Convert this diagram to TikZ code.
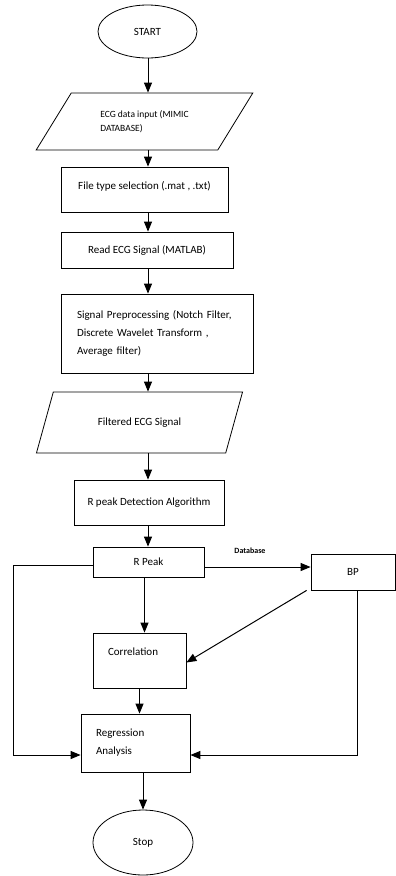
\documentclass[tikz,border=0pt]{standalone}
\usepackage{fontspec}
\setmainfont{Carlito}
\usetikzlibrary{shapes.geometric,arrows.meta}

\begin{document}
\begin{tikzpicture}[x=1pt,y=-1pt,
  box/.style={draw,line width=.8pt,rectangle,inner sep=0pt,font=\fontsize{11}{18}\selectfont},
  io/.style={draw,line width=.8pt,trapezium,trapezium stretches=true,inner sep=0pt},
  term/.style={draw,line width=.8pt,ellipse,inner sep=0pt,font=\fontsize{11}{13}\selectfont},
  arr/.style={line width=1pt,-{Triangle[length=10pt,width=8pt]}},
  link/.style={line width=1pt}]
  \useasboundingbox (0,0) rectangle (396,876);
  \node[term,minimum width=99,minimum height=53] (start) at (147.5,31.5) {START};
  \node[io,trapezium left angle=46.5,trapezium right angle=133.5,minimum width=217,minimum height=57,
    font=\fontsize{9.5}{14}\selectfont,align=left] (input) at (144.5,121.5) {ECG data input (MIMIC\\DATABASE)};
  \node[box,minimum width=167,minimum height=45,text depth=9pt] (ftype) at (144.5,189.5) {File type selection (.mat , .txt)};
  \node[box,minimum width=172,minimum height=36] (read) at (147,250) {Read ECG Signal (MATLAB)};
  \node[box,minimum width=192,minimum height=79,text width=160,align=left] (prep) at (157,333.5)
    {Signal Preprocessing (Notch Filter,\\Discrete Wavelet Transform ,\\Average filter)};
  \node[io,trapezium left angle=49.5,trapezium right angle=130.5,minimum width=207,minimum height=61,
    font=\fontsize{11}{13}\selectfont] (filt) at (139.5,422.5) {Filtered ECG Signal};
  \node[box,minimum width=150,minimum height=45] (rdet) at (149,502.5) {R peak Detection Algorithm};
  \node[box,minimum width=111,minimum height=30] (rpeak) at (148.5,562) {R Peak};
  \node[box,minimum width=84,minimum height=36] (bp) at (353,572) {BP};
  \node[font=\fontsize{8}{9}\selectfont\bfseries] (db) at (250,551) {Database};
  \node[box,minimum width=93,minimum height=55,text width=63,align=left,text depth=18pt] (corr) at (139.5,660.5) {Correlation};
  \node[box,minimum width=109,minimum height=58,text width=79,align=left] (reg) at (135.5,743) {Regression\\Analysis};
  \node[term,minimum width=100,minimum height=65] (stop) at (143,842.5) {Stop};
  \coordinate (spine) at (148,0);
  \coordinate (leftbus) at (13,565);
  % main column
  \draw[arr] (start.south -| spine) -- (input.north -| spine);
  \draw[arr] (input.south -| spine) -- (ftype.north -| spine);
  \draw[arr] (ftype.south -| spine) -- (read.north -| spine);
  \draw[arr] (read.south -| spine) -- (prep.north -| spine);
  \draw[arr] (prep.south -| spine) -- (filt.north -| spine);
  \draw[arr] (filt.south -| spine) -- (rdet.north -| spine);
  \draw[arr] (rdet.south -| spine) -- (rpeak.north -| spine);
  % branches
  \draw[arr] ([yshift=-5]rpeak.east) -- ([yshift=-5]rpeak.east -| bp.west);
  \draw[arr] ([xshift=-4]rpeak.south) -- ([xshift=-4]rpeak.south |- corr.north);
  \draw[arr] ([xshift=-4]bp.south west) -- ([yshift=-2]corr.east);
  \draw[link] ([yshift=-3]rpeak.west) -- (leftbus);
  \draw[arr] (leftbus) |- ([yshift=-12]reg.west);
  \draw[arr] ([xshift=4]bp.south) |- ([yshift=-12]reg.east);
  \draw[arr] (corr.south) -- (corr.south |- reg.north);
  \draw[arr] (reg.south -| stop) -- (stop.north);
\end{tikzpicture}
\end{document}
